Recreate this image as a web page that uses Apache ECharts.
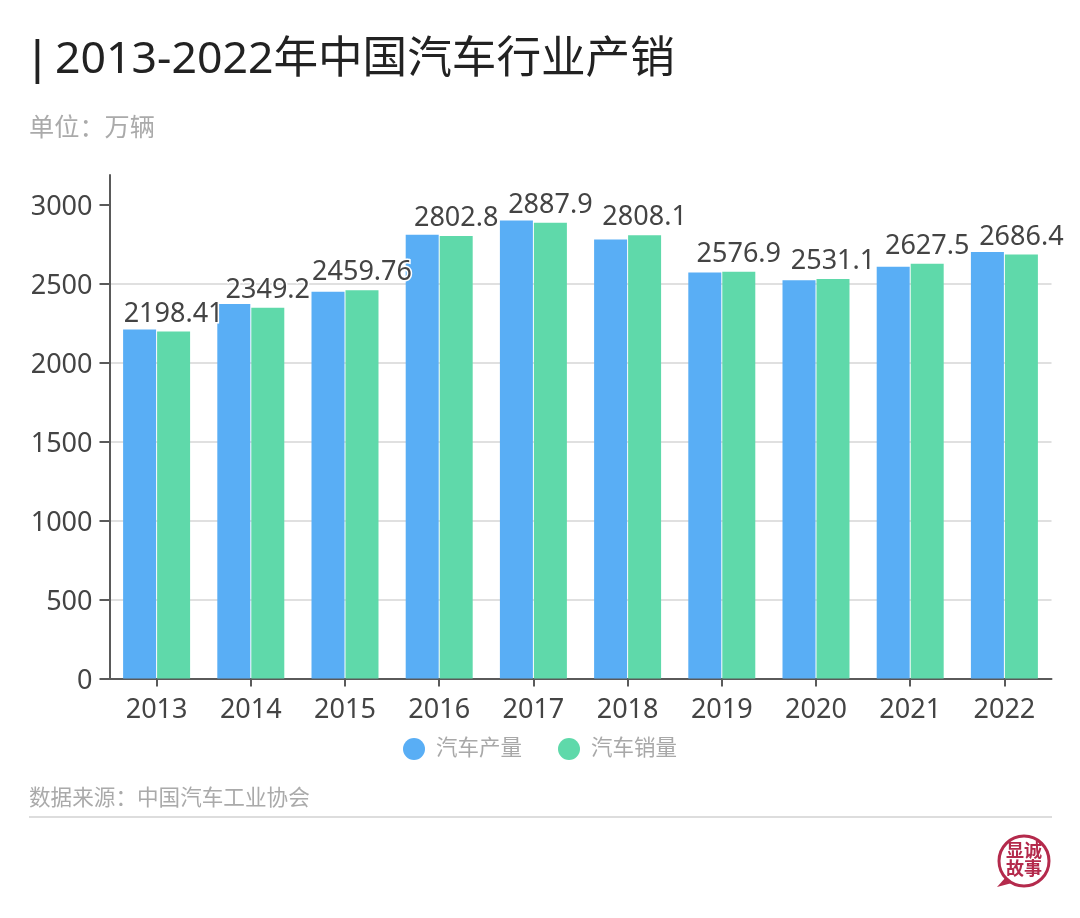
<!DOCTYPE html>
<html><head><meta charset="utf-8">
<style>html,body{margin:0;padding:0;background:#fff}#c{width:1080px;height:918px}</style>
<script src="https://cdn.jsdelivr.net/npm/echarts@6/dist/echarts.min.js"></script>
</head><body><div id="c"></div>
<script>
const years = ['2013','2014','2015','2016','2017','2018','2019','2020','2021','2022'];
const production = [2211.68,2372.29,2450.33,2811.88,2901.54,2780.92,2572.1,2522.5,2608.2,2702.1];
const sales = [2198.41,2349.2,2459.76,2802.8,2887.9,2808.1,2576.9,2531.1,2627.5,2686.4];
const yTicks = [0,500,1000,1500,2000,2500,3000];
const font = '"Noto Sans","Noto Sans CJK SC",sans-serif';
const chart = echarts.init(document.getElementById('c'), null, {renderer:'canvas'});
chart.setOption({
  animation:false,
  backgroundColor:'#fff',
  textStyle:{fontFamily:font},
  grid:{left:109.5,right:28.5,top:175,bottom:239.5},
  legend:{
    data:[{name:'汽车产量',icon:'circle'},{name:'汽车销量',icon:'circle'}],
    left:398, top:733, itemWidth:22, itemHeight:22, itemGap:36,
    textStyle:{fontFamily:font,fontSize:21.5,color:'#a8a8a8',padding:[0,0,0,6]}
  },
  xAxis:{
    type:'category',data:years,
    axisLine:{lineStyle:{color:'#5a5a5a',width:2}},
    axisTick:{show:true,alignWithLabel:true,length:8,lineStyle:{color:'#5a5a5a',width:2}},
    axisLabel:{fontFamily:font,fontSize:27,color:'#444',margin:18,interval:0}
  },
  yAxis:{
    type:'value',min:0,max:3190,interval:500,
    axisLine:{show:true,lineStyle:{color:'#5a5a5a',width:2}},
    axisTick:{show:true,length:10,customValues:yTicks,lineStyle:{color:'#5a5a5a',width:2}},
    axisLabel:{margin:17,customValues:yTicks,formatter:v=>'{v|'+v+'}',
      rich:{v:{fontFamily:font,fontSize:27,color:'#444',padding:[5,0,0,0]}}},
    splitLine:{show:true,showMaxLine:false,lineStyle:{color:'#e0e0e0',width:2}}
  },
  series:[
    {name:'汽车产量',type:'bar',data:production,barWidth:33,barGap:'3%',itemStyle:{color:'#59aef5'}},
    {name:'汽车销量',type:'bar',data:sales,barWidth:33,itemStyle:{color:'#5fd9aa'},
     label:{show:true,position:'top',distance:4,fontFamily:font,fontSize:27,color:'#444',textBorderColor:'#fff',textBorderWidth:3}}
  ],
  graphic:[
    {type:'text',left:25,top:38,style:{text:'|',font:'500 45px '+font,fill:'#222'}},
    {type:'text',left:55,top:38,style:{text:'2013-2022年中国汽车行业产销',font:'400 44.6px '+font,fill:'#222'}},
    {type:'text',left:29,top:116,style:{text:'单位：万辆',font:'400 25.2px '+font,fill:'#aaa'}},
    {type:'text',left:29,top:788,style:{text:'数据来源：中国汽车工业协会',font:'400 21.6px '+font,fill:'#aaa'}},
    {type:'line',shape:{x1:29,y1:817,x2:1052,y2:817},style:{stroke:'#ddd',lineWidth:2}},
    {type:'circle',shape:{cx:1024,cy:861,r:25},style:{fill:'#fff',stroke:'#b42a4c',lineWidth:3}},
    {type:'polygon',shape:{points:[[1006,877],[1012,883],[997,887]]},style:{fill:'#b42a4c'}},
    {type:'text',x:1024,y:852,style:{text:'显诚',font:'700 18px '+font,fill:'#b42a4c',align:'center',verticalAlign:'middle'}},
    {type:'text',x:1024,y:870,style:{text:'故事',font:'700 18px '+font,fill:'#b42a4c',align:'center',verticalAlign:'middle'}}
  ]
});
</script></body></html>
